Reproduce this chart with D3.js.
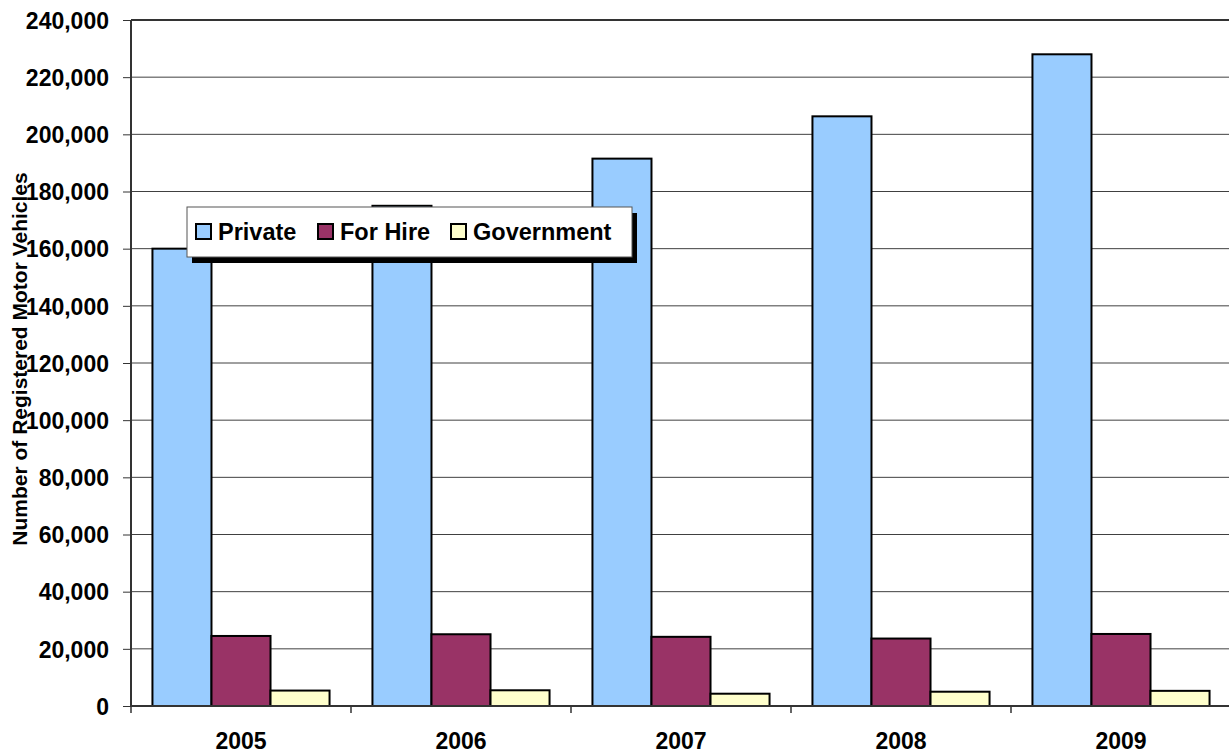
<!DOCTYPE html>
<html><head><meta charset="utf-8">
<script src="https://cdn.jsdelivr.net/npm/d3@7"></script>
<style>html,body{margin:0;padding:0;background:#fff;overflow:hidden}</style>
</head><body><svg id="c" width="1229" height="753"></svg>
<script>
const years = ["2005","2006","2007","2008","2009"];
const seriesNames = ["Private","For Hire","Government"];
const privateVals = [160000,175000,191500,206300,228000];
const forHireVals = [24500,25100,24200,23600,25200];
const governmentVals = [5400,5500,4300,5000,5300];
const yTicks = [0,20000,40000,60000,80000,100000,120000,140000,160000,180000,200000,220000,240000];
const colors = ["#99CCFF","#993366","#FFFFCC"];
const seriesVals = [privateVals, forHireVals, governmentVals];

const svg = d3.select("#c");
const L = 131, R = 1231, T = 20, B = 706;
const font = "'Liberation Sans', Arial, sans-serif";

const y = d3.scaleLinear().domain([0,240000]).range([B,T]);
const x0 = d3.scaleBand().domain(years).range([L,R]).paddingInner(0.195).paddingOuter(0.0975);
const x1 = d3.scaleBand().domain(seriesNames).range([0,x0.bandwidth()]).padding(0);

// gridlines
svg.append("g").selectAll("line").data(yTicks.filter(d=>d>0)).join("line")
  .attr("x1",L).attr("x2",1229).attr("y1",d=>y(d)).attr("y2",d=>y(d))
  .attr("stroke",d=>d===240000?"#333":"#404040").attr("stroke-width",d=>d===240000?2:1);

// y axis
const yAxis = d3.axisLeft(y).tickValues(yTicks).tickSize(8).tickPadding(14)
  .tickFormat(d3.format(","));
const gy = svg.append("g").attr("transform",`translate(${L},0)`).call(yAxis);
gy.select(".domain").attr("stroke","#333").attr("stroke-width",2).attr("d",`M0,${T}V${B}`);
gy.selectAll(".tick line").attr("stroke","#333");
gy.selectAll("text").attr("font-family",font).attr("font-weight","bold").attr("font-size",23).attr("fill","#000").attr("dy","0.36em");

// bars
const groups = svg.append("g").selectAll("g").data(years).join("g")
  .attr("transform",d=>`translate(${x0(d)},0)`);
groups.selectAll("rect").data((d,i)=>seriesNames.map((s,j)=>({s,j,v:seriesVals[j][i]}))).join("rect")
  .attr("x",d=>x1(d.s)).attr("width",x1.bandwidth())
  .attr("y",d=>y(d.v)).attr("height",d=>B-y(d.v))
  .attr("fill",d=>colors[d.j]).attr("stroke","#000").attr("stroke-width",2);

// x axis
const xb = d3.scaleLinear().domain([0,5]).range([L,R]);
svg.append("line").attr("x1",L).attr("x2",1229).attr("y1",B).attr("y2",B).attr("stroke","#333").attr("stroke-width",2);
svg.append("g").selectAll("line").data(d3.range(0,5)).join("line")
  .attr("x1",d=>xb(d)).attr("x2",d=>xb(d)).attr("y1",B).attr("y2",B+7).attr("stroke","#333").attr("stroke-width",1.5);
svg.append("g").selectAll("text").data(years).join("text")
  .attr("x",d=>x0(d)+x0.bandwidth()/2).attr("y",749).attr("text-anchor","middle")
  .attr("font-family",font).attr("font-weight","bold").attr("font-size",23).text(d=>d);

// y title
svg.append("text").attr("transform","translate(27,359) rotate(-90)").attr("text-anchor","middle")
  .attr("font-family",font).attr("font-weight","bold").attr("font-size",21).text("Number of Registered Motor Vehicles");

// legend
const lg = svg.append("g").attr("transform","translate(187,207)");
lg.append("rect").attr("x",5).attr("y",6).attr("width",445).attr("height",50).attr("fill","#000");
lg.append("rect").attr("x",0).attr("y",0).attr("width",445).attr("height",50).attr("fill","#fff").attr("stroke","#555").attr("stroke-width",1);
const lx = [8,130,263];
seriesNames.forEach((s,i)=>{
  lg.append("rect").attr("x",lx[i]+1).attr("y",17).attr("width",15).attr("height",15).attr("fill",colors[i]).attr("stroke","#000").attr("stroke-width",2);
  lg.append("text").attr("x",lx[i]+23).attr("y",33).attr("font-family",font).attr("font-weight","bold").attr("font-size",23.5).text(s);
});
</script></body></html>
